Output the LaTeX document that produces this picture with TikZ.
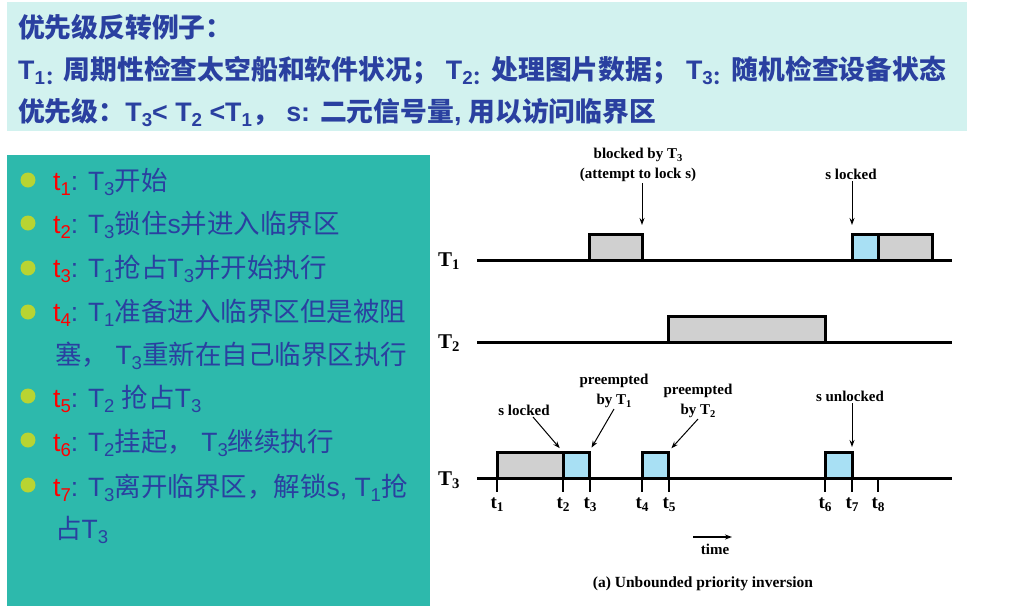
\documentclass[tikz,border=0pt]{standalone}
\usepackage{fontspec}
\usepackage{graphicx}
\setmainfont{Liberation Sans}
\newfontfamily\zhfont{Noto Sans CJK SC}
\newfontfamily\tmfont{Liberation Serif}
\usetikzlibrary{arrows.meta}
\definecolor{hdrbg}{HTML}{D2F2EF}
\definecolor{panelbg}{HTML}{2DB9AC}
\definecolor{inkblue}{HTML}{2A40A0}
\definecolor{dotgreen}{HTML}{B8D432}
\definecolor{runblue}{HTML}{A8E0F4}
\definecolor{rungray}{HTML}{D0D0D0}
\newcommand\zh[1]{{\zhfont #1}}
\newcommand\lo[1]{\raisebox{-0.4ex}{\scalebox{0.7}{#1}}}
\newcommand\tn[1]{{\color{red}t\lo{#1}}}
\tikzset{
  hdr/.style={anchor=base west, inner sep=0pt, text=inkblue,
    font=\fontsize{26.8}{30}\selectfont\bfseries},
  item/.style={anchor=base west, inner sep=0pt, text=inkblue,
    font=\fontsize{26.5}{32}\selectfont},
  dot/.style={circle, fill=dotgreen, inner sep=0pt, minimum size=15pt},
  axis/.style={line width=3pt},
  runbox/.style={draw, line width=3pt, inner sep=0pt, outer sep=0pt,
    anchor=south west, minimum height=26pt},
  grayrun/.style={runbox, fill=rungray},
  bluerun/.style={runbox, fill=runblue},
  tasklab/.style={anchor=base west, inner sep=0pt,
    font=\tmfont\fontsize{21}{24}\selectfont\bfseries},
  ticklab/.style={anchor=base, inner sep=0pt,
    font=\tmfont\fontsize{19}{22}\selectfont\bfseries},
  note/.style={anchor=south, inner sep=1pt, align=center,
    font=\tmfont\fontsize{15}{20}\selectfont\bfseries},
  ann/.style={line width=1pt, -{Stealth[length=7pt,width=5pt]}},
  tick/.style={line width=1.2pt}
}
\begin{document}
\begin{tikzpicture}[x=1pt,y=-1pt]
\useasboundingbox (0,0) rectangle (1012,606);

% header panel
\fill[hdrbg] (7,2) rectangle (967,131);
\node[hdr] (h1) at (18,37) {\zh{优先级反转例子：}};
\node[hdr] (h2) at (18,79) {T\lo{1\zh{：}}\zh{周期性检查太空船和软件状况；}\hspace{7pt}T\lo{2\zh{：}}\zh{处理图片数据；}\hspace{7pt}T\lo{3\zh{：}}\zh{随机检查设备状态}};
\node[hdr] (h3) at (18,121) {\zh{优先级：}T\lo{3}< T\lo{2} <T\lo{1}\zh{，} s: \zh{二元信号量},\hspace{7pt}\zh{用以访问临界区}};

% event list panel
\fill[panelbg] (7,155) rectangle (430,606);
\node[dot] (d1) at (28,180) {};
\node[item] (l1) at (53,190) {\tn{1}: T\lo{3}\zh{开始}};
\node[dot] (d2) at (28,223) {};
\node[item] (l2) at (53,233) {\tn{2}: T\lo{3}\zh{锁住}s\zh{并进入临界区}};
\node[dot] (d3) at (28,268) {};
\node[item] (l3) at (53,277) {\tn{3}: T\lo{1}\zh{抢占}T\lo{3}\zh{并开始执行}};
\node[dot] (d4) at (28,312) {};
\node[item] (l4) at (53,321) {\tn{4}: T\lo{1}\zh{准备进入临界区但是被阻}};
\node[item] (l4b) at (55,364) {\zh{塞，} T\lo{3}\zh{重新在自己临界区执行}};
\node[dot] (d5) at (28,396) {};
\node[item] (l5) at (53,407) {\tn{5}: T\lo{2} \zh{抢占}T\lo{3}};
\node[dot] (d6) at (28,440) {};
\node[item] (l6) at (53,451) {\tn{6}: T\lo{2}\zh{挂起，} T\lo{3}\zh{继续执行}};
\node[dot] (d7) at (28,485) {};
\node[item] (l7) at (53,496) {\tn{7}: T\lo{3}\zh{离开临界区，解锁}s, T\lo{1}\zh{抢}};
\node[item] (l7b) at (55,538) {\zh{占}T\lo{3}};

% timelines
\node[tasklab] (T1) at (438,266) {T\lo{1}};
\node[tasklab] (T2) at (438,348) {T\lo{2}};
\node[tasklab] (T3) at (438,485) {T\lo{3}};
\draw[axis] (477,260) -- (952,260);
\draw[axis] (477,342) -- (952,342);
\draw[axis] (477,478) -- (952,478);

% T1 runs
\node[grayrun, minimum width=53pt] (r11) at (589,260) {};
\node[bluerun, minimum width=26pt] (r12) at (852,260) {};
\node[grayrun, minimum width=54pt] (r13) at (878,260) {};
% T2 run
\node[grayrun, minimum width=157pt] (r21) at (668,342) {};
% T3 runs
\node[grayrun, minimum width=66pt] (r31) at (497,478) {};
\node[bluerun, minimum width=26pt] (r32) at (563,478) {};
\node[bluerun, minimum width=26pt] (r33) at (642,478) {};
\node[bluerun, minimum width=27pt] (r34) at (825,478) {};

% time marks
\foreach \x/\i in {497/1,563/2,590/3,642/4,669/5,825/6,852/7,878/8}{
  \draw[tick] (\x,478) -- (\x,492);
  \node[ticklab] (tl\i) at (\x,508) {t\lo{\i}};
}

% annotations
\node[note] (n1) at (638,183) {blocked by T\lo{3}\\(attempt to lock s)};
\draw[ann, shorten >=9pt] (r11.north east |- n1.south) -- (r11.north east);
\node[note] (n2) at (851,181) {s locked};
\draw[ann, shorten >=9pt] (r12.north west |- n2.south) -- (r12.north west);
\node[note] (n3) at (524,417) {s locked};
\draw[ann, shorten >=5pt] ([xshift=9pt]n3.south) -- (r31.north east);
\node[note] (n4) at (614,409) {preempted\\by T\lo{1}};
\draw[ann, shorten >=5pt] (n4.south) -- (r32.north east);
\node[note] (n5) at (698,419) {preempted\\by T\lo{2}};
\draw[ann, shorten >=5pt] (n5.south) -- (r33.north east);
\node[note] (n6) at (850,403) {s unlocked};
\draw[ann, shorten >=5pt] (r34.north east |- n6.south) -- (r34.north east);

% time direction and caption
\coordinate (ts) at (693,537);
\coordinate (te) at (732,537);
\draw[line width=1.5pt, -{Stealth[length=7pt,width=5pt]}] (ts) -- (te);
\node[anchor=base, inner sep=0pt, font=\tmfont\fontsize{15}{18}\selectfont\bfseries] (tm) at (715,554) {time};
\node[anchor=base, inner sep=0pt, font=\tmfont\fontsize{15.5}{18}\selectfont\bfseries] (cap) at (703,587) {(a) Unbounded priority inversion};
\end{tikzpicture}
\end{document}
